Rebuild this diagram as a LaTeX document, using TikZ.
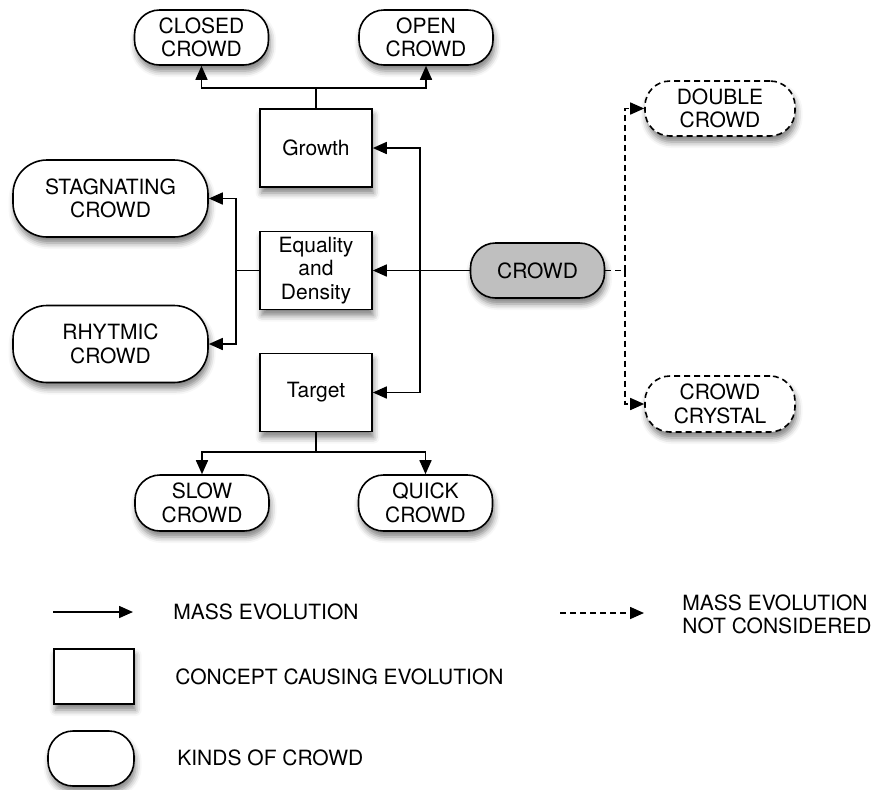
\documentclass[tikz,border=0pt]{standalone}
\usepackage{fontspec}
\setmainfont{TeX Gyre Heros}
\usepackage{tikz}
\usetikzlibrary{arrows.meta,shadows.blur}

\begin{document}
\begin{tikzpicture}[x=0.5pt,y=-0.5pt,
	every node/.style={font=\fontsize{10.5}{11.8}\selectfont, align=center, inner sep=0pt},
	shade/.style={blur shadow={shadow xshift=0.8pt, shadow yshift=-3pt, shadow blur radius=3pt, shadow opacity=50}},
	concept/.style={draw, line width=0.8pt, fill=white, shade, minimum width=56pt, minimum height=39pt},
	kind/.style={draw, line width=0.8pt, fill=white, shade, rounded corners=12.5pt, minimum width=67pt, minimum height=27.5pt},
	bigkind/.style={kind, rounded corners=17pt, minimum width=97.5pt, minimum height=38.5pt},
	maybe/.style={kind, dashed, dash pattern=on 3pt off 2pt, minimum width=75pt},
	evo/.style={line width=0.8pt, -{Triangle[length=7pt,width=6pt]}},
	noevo/.style={evo, dash pattern=on 3pt off 2pt}]
	% Frame of the picture
	\useasboundingbox (0,0) rectangle (879,789);
	% Concepts causing evolution
	\node[concept] (growth) at (316,148) {Growth};
	\node[concept] (equality) at (316,270.5) {Equality\\and\\Density};
	\node[concept] (target) at (316,392.5) {Target};
	% Kinds of crowd
	\node[kind, fill=black!25] (crowd) at (537.5,270.5) {CROWD};
	\node[kind] (closed) at (201.5,37.5) {CLOSED\\CROWD};
	\node[kind] (open) at (426,37.5) {OPEN\\CROWD};
	\node[bigkind] (stagnating) at (110.5,198.5) {STAGNATING\\CROWD};
	\node[bigkind] (rhytmic) at (110.5,344) {RHYTMIC\\CROWD};
	\node[kind, minimum height=28pt] (slow) at (202,503) {SLOW\\CROWD};
	\node[kind, minimum height=28pt] (quick) at (425.5,503) {QUICK\\CROWD};
	\node[maybe] (double) at (720,108.5) {DOUBLE\\CROWD};
	\node[maybe, minimum height=28pt] (crystal) at (720,404) {CROWD\\CRYSTAL};
	% Branch points
	\coordinate (ctrunk) at (420,270.5);
	\coordinate (gsplit) at (316,88);
	\coordinate (esplit) at (236,270.5);
	\coordinate (tsplit) at (316,452);
	\coordinate (dsplit) at (625,270.5);
	% Mass evolution
	\draw[evo] (crowd) -- (equality);
	\foreach \n in {growth,target} \draw[evo] (ctrunk) |- (\n);
	\draw[line width=0.8pt] (growth) -- (gsplit);
	\foreach \n in {closed,open} \draw[evo] (gsplit) -| (\n);
	\draw[line width=0.8pt] (equality) -- (esplit);
	\foreach \n in {stagnating,rhytmic} \draw[evo] (esplit) |- (\n);
	\draw[line width=0.8pt] (target) -- (tsplit);
	\foreach \n in {slow,quick} \draw[evo] (tsplit) -| (\n);
	% Not considered
	\draw[line width=0.8pt, dash pattern=on 3pt off 2pt] (crowd) -- (dsplit);
	\foreach \n in {double,crystal} \draw[noevo] (dsplit) |- (\n);
	% Legend
	\coordinate (la) at (53,612);
	\coordinate (lb) at (133,612);
	\draw[evo] (la) -- (lb);
	\node[anchor=west] (levo) at (173,612) {MASS EVOLUTION};
	\coordinate (lc) at (560,613);
	\coordinate (ld) at (644,613);
	\draw[noevo] (lc) -- (ld);
	\node[align=left] (lnot) at (777,614.5) {MASS EVOLUTION\\NOT CONSIDERED};
	\node[concept, minimum width=40pt, minimum height=27.5pt] (lbox) at (94,676.5) {};
	\node[anchor=west] (lconcept) at (175,677) {CONCEPT CAUSING EVOLUTION};
	\node[kind, minimum width=43pt] (lkind) at (91,758.5) {};
	\node[anchor=west] (lkinds) at (177,758) {KINDS OF CROWD};
\end{tikzpicture}
\end{document}
